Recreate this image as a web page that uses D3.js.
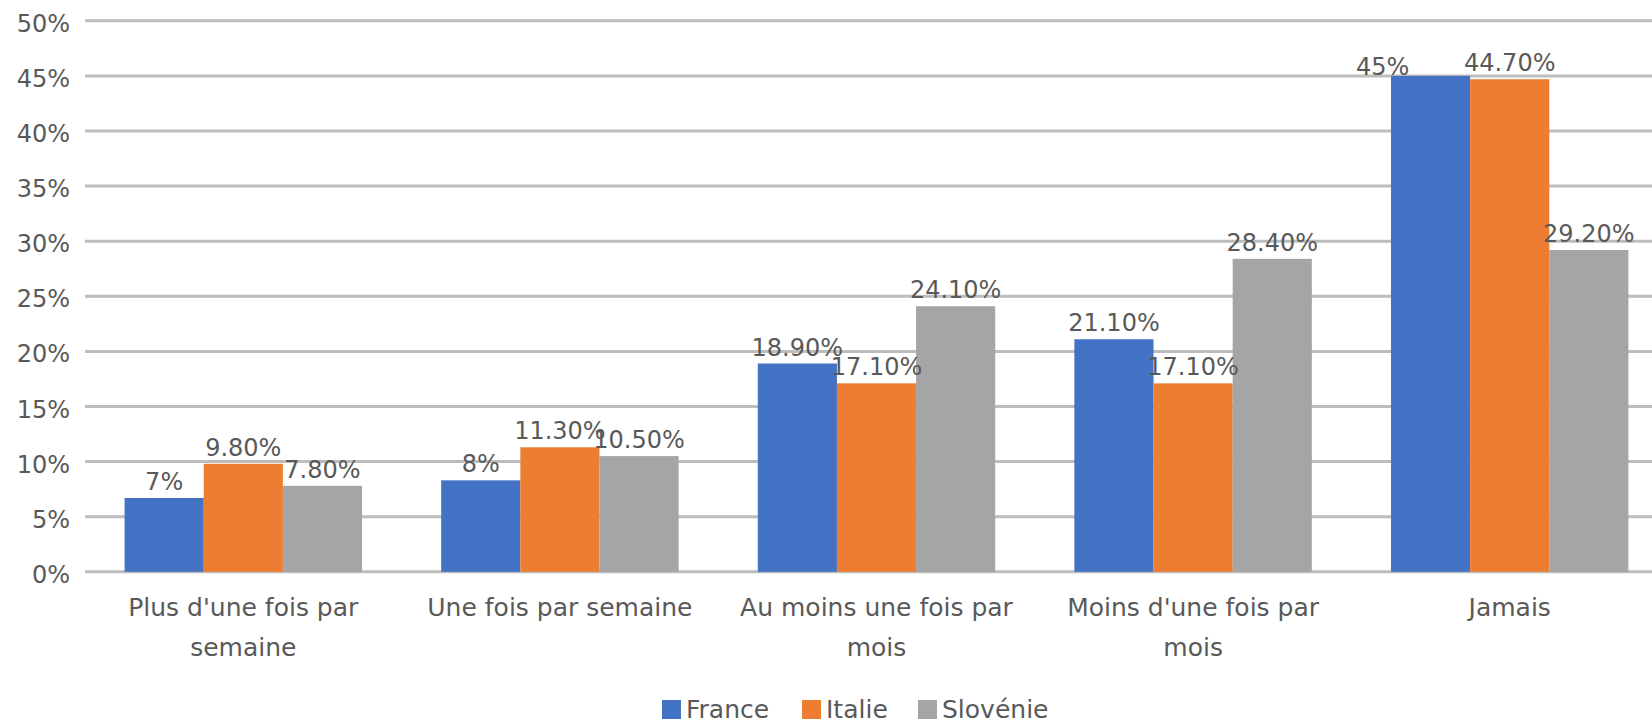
<!DOCTYPE html>
<html>
<head>
<meta charset="utf-8">
<script src="https://cdn.jsdelivr.net/npm/d3@7"></script>
<style>
  html, body { margin: 0; padding: 0; background: #ffffff; }
  svg { display: block; }
  text { font-family: "DejaVu Sans", sans-serif; fill: #595959; }
</style>
</head>
<body>
<svg id="chart" width="1652" height="724"></svg>
<script>
const categories = ["Plus d'une fois par semaine", "Une fois par semaine", "Au moins une fois par mois", "Moins d'une fois par mois", "Jamais"];
const seriesNames = ["France", "Italie", "Slovénie"];
const france = [6.7, 8.3, 18.9, 21.1, 45.0];
const italie = [9.8, 11.3, 17.1, 17.1, 44.7];
const slovenie = [7.8, 10.5, 24.1, 28.4, 29.2];
const franceLabels = ["7%", "8%", "18.90%", "21.10%", "45%"];
const italieLabels = ["9.80%", "11.30%", "17.10%", "17.10%", "44.70%"];
const slovenieLabels = ["7.80%", "10.50%", "24.10%", "28.40%", "29.20%"];
const yTicks = [0, 5, 10, 15, 20, 25, 30, 35, 40, 45, 50];
const yTickLabels = ["0%", "5%", "10%", "15%", "20%", "25%", "30%", "35%", "40%", "45%", "50%"];

(function () {
const colors = ["#4472C4", "#ED7D31", "#A5A5A5"];
const seriesValues = [france, italie, slovenie];
const seriesLabels = [franceLabels, italieLabels, slovenieLabels];
// manual label nudges (dx, dy) as in the original chart
const labelNudge = { "0-4": [-48, 7] };

const svg = d3.select("#chart");
const plotLeft = 85, plotRight = 1668, plotTop = 20.8, plotBottom = 571.8;

const x = d3.scaleBand().domain(categories).range([plotLeft, plotRight]).paddingInner(0.25).paddingOuter(0.125);
const xs = d3.scaleBand().domain(seriesNames).range([0, x.bandwidth()]).padding(0);
const y = d3.scaleLinear().domain([0, 50]).range([plotBottom, plotTop]);

// gridlines
svg.append("g").selectAll("line").data(yTicks).join("line")
  .attr("x1", plotLeft).attr("x2", plotRight)
  .attr("y1", d => y(d)).attr("y2", d => y(d))
  .attr("stroke", "#bdbdbd").attr("stroke-width", 3);

// y tick labels
svg.append("g").selectAll("text").data(yTicks).join("text")
  .attr("x", 70).attr("y", d => y(d) + 4)
  .attr("text-anchor", "end").attr("dominant-baseline", "middle")
  .style("font-size", "24px")
  .text((d, i) => yTickLabels[i]);

// bars
const rows = [];
seriesNames.forEach((s, si) => {
  categories.forEach((c, ci) => {
    rows.push({ s, si, c, ci, v: seriesValues[si][ci], label: seriesLabels[si][ci] });
  });
});

svg.append("g").selectAll("rect").data(rows).join("rect")
  .attr("x", d => x(d.c) + xs(d.s))
  .attr("y", d => y(d.v))
  .attr("width", xs.bandwidth())
  .attr("height", d => y(0) - y(d.v))
  .attr("fill", d => colors[d.si]);

// data labels
svg.append("g").selectAll("text").data(rows).join("text")
  .attr("x", d => x(d.c) + xs(d.s) + xs.bandwidth() / 2 + ((labelNudge[d.si + "-" + d.ci] || [0, 0])[0]))
  .attr("y", d => y(d.v) - 8 + ((labelNudge[d.si + "-" + d.ci] || [0, 0])[1]))
  .attr("text-anchor", "middle")
  .style("font-size", "24px")
  .text(d => d.label);

// x labels with wrapping
const xl = svg.append("g");
categories.forEach(c => {
  const words = c.split(" ");
  const maxW = x.step() - 20;
  const lines = [];
  let cur = "";
  const t = xl.append("text").style("font-size", "25px").attr("text-anchor", "middle");
  words.forEach(w => {
    const test = cur ? cur + " " + w : w;
    t.text(test);
    if (t.node().getComputedTextLength() > maxW && cur) {
      lines.push(cur);
      cur = w;
    } else {
      cur = test;
    }
  });
  lines.push(cur);
  t.text(null);
  lines.forEach((ln, i) => {
    t.append("tspan")
      .attr("x", x(c) + x.bandwidth() / 2)
      .attr("y", 609 + i * 40)
      .attr("dominant-baseline", "middle")
      .text(ln);
  });
});

// legend
const legendX = [662, 802, 918];
const lg = svg.append("g");
seriesNames.forEach((s, i) => {
  lg.append("rect").attr("x", legendX[i]).attr("y", 700).attr("width", 19).attr("height", 19).attr("fill", colors[i]);
  lg.append("text").attr("x", legendX[i] + 24).attr("y", 711)
    .attr("dominant-baseline", "middle").style("font-size", "25px").text(s);
});
})();
</script>
</body>
</html>
